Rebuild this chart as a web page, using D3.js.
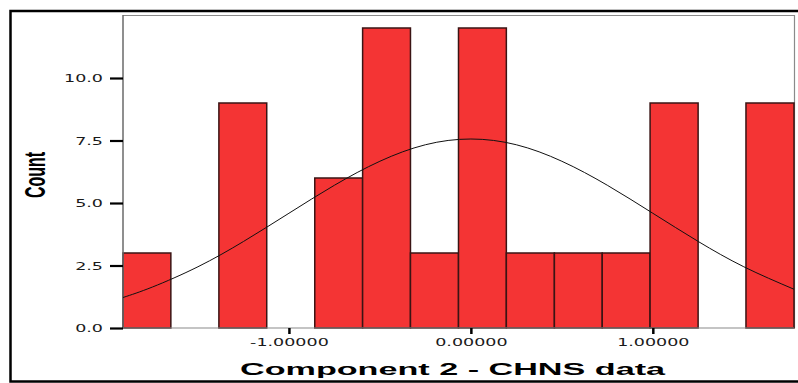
<!DOCTYPE html>
<html>
<head>
<meta charset="utf-8">
<script src="https://cdn.jsdelivr.net/npm/d3@7/dist/d3.min.js"></script>
<style>
  html, body { margin: 0; padding: 0; background: #fff; }
  svg { display: block; }
</style>
</head>
<body>
<svg id="chart" width="798" height="383"></svg>
<script>
// Histogram bins: edges on the component-score axis and count per bin
const binEdges = [-1.912, -1.649, -1.385, -1.122, -0.858, -0.595, -0.332, -0.068,
                  0.195, 0.459, 0.722, 0.985, 1.249, 1.512, 1.776];
const counts = [3, 0, 9, 0, 6, 12, 3, 12, 3, 3, 3, 9, 0, 9];

// Fitted normal curve, sampled along the axis (score, expected count)
const curveX = [-1.912, -1.75, -1.5, -1.25, -1.0, -0.75, -0.5, -0.25, 0,
                0.25, 0.5, 0.75, 1.0, 1.25, 1.5, 1.776];
const curveY = [1.22, 1.64, 2.45, 3.46, 4.59, 5.71, 6.67, 7.33, 7.56,
                7.33, 6.67, 5.71, 4.59, 3.46, 2.45, 1.55];

// Axis ticks and titles
const yTicks = [0, 2.5, 5, 7.5, 10];
const xTicks = [-1, 0, 1];
const xTitle = "Component 2 - CHNS data";
const yTitle = "Count";

const svg = d3.select("#chart");
const plot = { left: 123, right: 794, top: 15, bottom: 328 };
const stretch = 1.75; // wide lettering of the axis text

const x = d3.scaleLinear().domain([binEdges[0], binEdges[binEdges.length - 1]])
  .range([plot.left, plot.right]);
const y = d3.scaleLinear().domain([0, 12.52]).range([plot.bottom, plot.top]);

// plain hyphen for negative tick values
const fmtX = v => d3.format(".5f")(v).replace("\u2212", "-");

// outer frame
svg.append("rect")
  .attr("x", 10.5).attr("y", 11).attr("width", 800).attr("height", 370.5)
  .attr("fill", "none").attr("stroke", "#000").attr("stroke-width", 2.5);

// plot border (top and right)
svg.append("path")
  .attr("d", `M${plot.left},${plot.top + 0.5}H${plot.right + 0.5}V${plot.bottom}`)
  .attr("fill", "none").attr("stroke", "#8a8a8a").attr("stroke-width", 1.2);

// bars
const bins = counts.map((c, i) => ({ x0: binEdges[i], x1: binEdges[i + 1], c }));
svg.append("g").selectAll("rect")
  .data(bins.filter(d => d.c > 0))
  .join("rect")
  .attr("x", d => x(d.x0))
  .attr("y", d => y(d.c))
  .attr("width", d => x(d.x1) - x(d.x0))
  .attr("height", d => y(0) - y(d.c))
  .attr("fill", "#f43434")
  .attr("stroke", "#3a1414")
  .attr("stroke-width", 1.5);

// baseline and left axis line
svg.append("line")
  .attr("x1", plot.left).attr("x2", plot.right).attr("y1", plot.bottom).attr("y2", plot.bottom)
  .attr("stroke", "#8a8a8a").attr("stroke-width", 1.2);
svg.append("line")
  .attr("x1", plot.left).attr("x2", plot.left).attr("y1", plot.top).attr("y2", plot.bottom)
  .attr("stroke", "#6a6a6a").attr("stroke-width", 1.5);

// normal curve
const pts = curveX.map((v, i) => [v, curveY[i]]);
svg.append("path")
  .datum(pts)
  .attr("fill", "none")
  .attr("stroke", "#111")
  .attr("stroke-width", 1)
  .attr("d", d3.line().x(d => x(d[0])).y(d => y(d[1])).curve(d3.curveNatural));

// y axis
const yAxis = svg.append("g")
  .attr("transform", `translate(${plot.left},0)`)
  .call(d3.axisLeft(y).tickValues(yTicks).tickFormat(d3.format(".1f")).tickSize(13).tickPadding(0));
yAxis.select(".domain").remove();
yAxis.selectAll(".tick line").attr("stroke", "#000").attr("stroke-width", 2.2);
yAxis.selectAll(".tick text")
  .attr("x", -20 / stretch)
  .attr("dy", "0.36em")
  .attr("transform", `scale(${stretch},1)`)
  .attr("font-family", "DejaVu Sans")
  .attr("font-size", 10)
  .attr("fill", "#1a1a1a");

// x axis
const xAxis = svg.append("g")
  .attr("transform", `translate(0,${plot.bottom})`)
  .call(d3.axisBottom(x).tickValues(xTicks).tickFormat(fmtX).tickSize(6).tickPadding(0));
xAxis.select(".domain").remove();
xAxis.selectAll(".tick line").attr("stroke", "#000").attr("stroke-width", 2.5);
xAxis.selectAll(".tick text")
  .attr("y", 18).attr("dy", 0)
  .attr("transform", `scale(${stretch},1)`)
  .attr("font-family", "DejaVu Sans")
  .attr("font-size", 10)
  .attr("fill", "#1a1a1a");

// axis titles
svg.append("text")
  .attr("x", 240).attr("y", 375)
  .attr("textLength", 425).attr("lengthAdjust", "spacingAndGlyphs")
  .attr("font-family", "Liberation Sans, Arial, sans-serif")
  .attr("font-weight", "bold").attr("font-size", 17)
  .attr("fill", "#000")
  .text(xTitle);

svg.append("text")
  .attr("transform", `translate(45,175) scale(1.8,1) rotate(-90)`)
  .attr("text-anchor", "middle")
  .attr("font-family", "Liberation Sans, Arial, sans-serif")
  .attr("font-weight", "bold").attr("font-size", 16)
  .attr("fill", "#000")
  .text(yTitle);
</script>
</body>
</html>
